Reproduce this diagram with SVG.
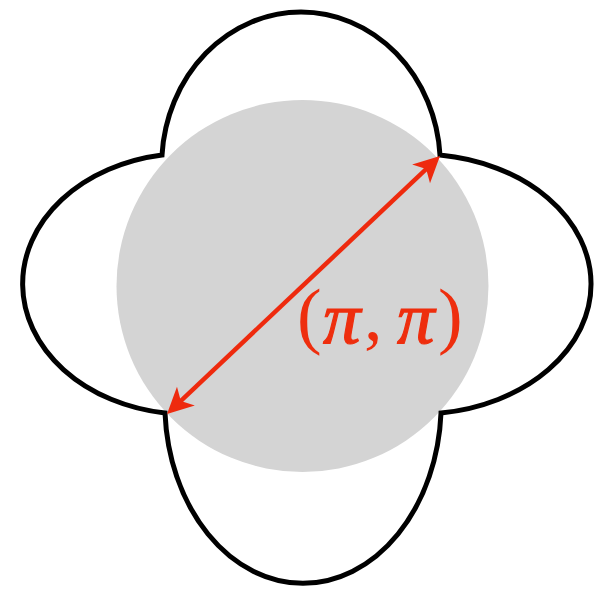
<svg xmlns="http://www.w3.org/2000/svg" width="616" height="589" viewBox="0 0 616 589">
<style>
.outline{fill:none;stroke:#000;stroke-width:5;stroke-linejoin:miter}
.arrow{fill:none;stroke:#ee2a0e;stroke-width:4.5}
.lbl{font-family:"Liberation Serif","Times New Roman",serif;font-size:74px;fill:#ee2e0e}
.it{font-style:italic;font-size:75px;stroke:#ee2e0e;stroke-width:1.2}
</style>
<defs>
<marker id="head" markerUnits="userSpaceOnUse" viewBox="-8 -14 27 28" markerWidth="27" markerHeight="28" refX="0" refY="0" orient="auto-start-reverse" overflow="visible">
<path d="M18,0 L-8,-13 L-1,0 L-8,13 Z" fill="#ee2a0e"/>
</marker>
</defs>
<g id="zone">
<circle cx="302.5" cy="286" r="186" fill="#d4d4d4"/>
</g>
<g id="surface">
<path class="outline" d="M162,155 A139.3,153 0 0 1 440,155 A172.5,130.06 0 0 1 441,413 A138.2,180 0 0 1 165,413 A165.8,130.49 0 0 1 162,155 Z"/>
</g>
<g id="connectors">
<path class="arrow" d="M180.1,401.6 L426.9,168.4" marker-start="url(#head)" marker-end="url(#head)"/>
</g>
<g id="label">
<text class="lbl" y="340"><tspan x="297">(</tspan><tspan class="it" x="323" y="343">π</tspan><tspan x="364" y="340">,</tspan><tspan class="it" x="397" y="343">π</tspan><tspan x="438" y="340">)</tspan></text>
</g>
</svg>
